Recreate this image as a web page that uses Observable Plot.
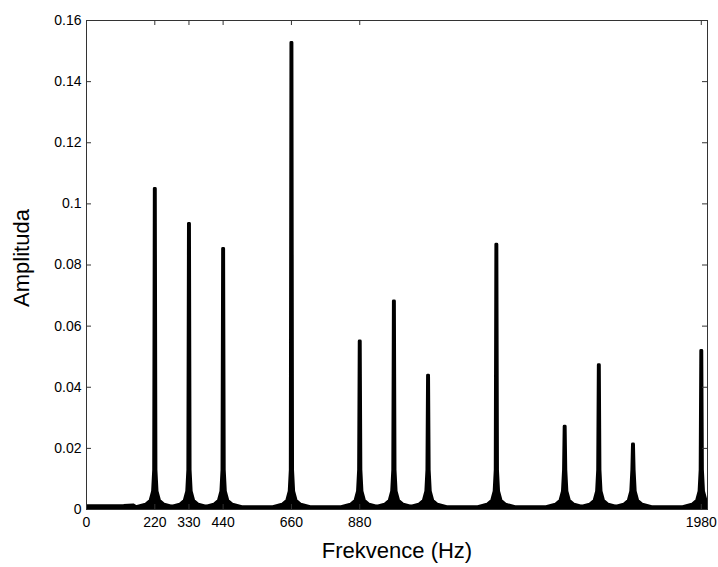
<!DOCTYPE html>
<html>
<head>
<meta charset="utf-8">
<script src="https://cdn.jsdelivr.net/npm/d3@7"></script>
<script src="https://cdn.jsdelivr.net/npm/@observablehq/plot@0.6"></script>
<style>
  body { margin: 0; background: #fff; }
</style>
</head>
<body>
<div id="chart"></div>
<script>
// Harmonic peaks (Hz) and their amplitudes
const peakFreq = [220, 330, 440, 660, 880, 990, 1100, 1320, 1540, 1650, 1760, 1980];
const peakAmp  = [0.105, 0.0936, 0.0854, 0.1528, 0.0551, 0.0682, 0.0439, 0.0868, 0.0272, 0.0474, 0.0214, 0.052];

// Shape of the skirt around each peak (offset in Hz, amplitude); null = the peak itself
const skirtOffset = [-60, -30, -15, -7, -3.5, -1.5, 1.5, 3.5, 7, 15, 30, 60];
const skirtLevel  = [0.0009, 0.0017, 0.003, 0.006, 0.013, null, null, 0.013, 0.006, 0.003, 0.0017, 0.0009];

// Low-frequency noise floor before the first peak
const lowFreq = [0, 60, 120, 150];
const lowAmp  = [0.0012, 0.0012, 0.0013, 0.0015];

// Axis ticks
const xTicks = [0, 220, 330, 440, 660, 880, 1980];
const xTickLabels = ["0", "220", "330", "440", "660", "880", "1980"];
const yTicks = [0, 0.02, 0.04, 0.06, 0.08, 0.1, 0.12, 0.14, 0.16];
const yTickLabels = ["0", "0.02", "0.04", "0.06", "0.08", "0.1", "0.12", "0.14", "0.16"];

const spectrum = [];
lowFreq.forEach((f, i) => spectrum.push({f, a: lowAmp[i]}));
peakFreq.forEach((pf, i) => {
  skirtOffset.forEach((o, j) => {
    spectrum.push({f: pf + o, a: skirtLevel[j] === null ? peakAmp[i] : skirtLevel[j]});
  });
});

const W = 718, H = 567, mL = 86, mR = 11, mT = 20, mB = 58;
const fw = W - mL - mR, fh = H - mT - mB, tl = 5;

const chart = Plot.plot({
  width: W, height: H,
  marginLeft: mL, marginRight: mR, marginTop: mT, marginBottom: mB,
  style: {fontFamily: "'Liberation Sans', Arial, sans-serif", fontSize: "14px", color: "#000", background: "#fff"},
  x: {domain: [0, 2000]},
  y: {domain: [0, 0.16]},
  marks: [
    Plot.areaY(spectrum, {x: "f", y: "a", fill: "#000", clip: true}),
    Plot.lineY(spectrum, {x: "f", y: "a", stroke: "#000", strokeWidth: 3, clip: true}),
    Plot.frame({stroke: "#333"}),
    Plot.tickY(yTicks, {y: d => d, insetRight: fw - tl, stroke: "#333"}),
    Plot.tickY(yTicks, {y: d => d, insetLeft: fw - tl, stroke: "#333"}),
    Plot.tickX(xTicks, {x: d => d, insetTop: fh - tl, stroke: "#333"}),
    Plot.tickX(xTicks, {x: d => d, insetBottom: fh - tl, stroke: "#333"}),
    Plot.axisX(xTicks, {tickSize: 0, tickPadding: 8, label: null, fontSize: 14, tickFormat: (d, i) => xTickLabels[i]}),
    Plot.axisY(yTicks, {tickSize: 0, tickPadding: 5, label: null, fontSize: 14, tickFormat: (d, i) => yTickLabels[i]}),
    Plot.text(["Frekvence (Hz)"], {text: d => d, frameAnchor: "bottom", dy: 48, fontSize: 22, textAnchor: "middle"}),
    Plot.text(["Amplituda"], {text: d => d, frameAnchor: "left", dx: -65, dy: -7, rotate: -90, fontSize: 22, textAnchor: "middle"})
  ]
});
document.getElementById("chart").append(chart);
</script>
</body>
</html>
